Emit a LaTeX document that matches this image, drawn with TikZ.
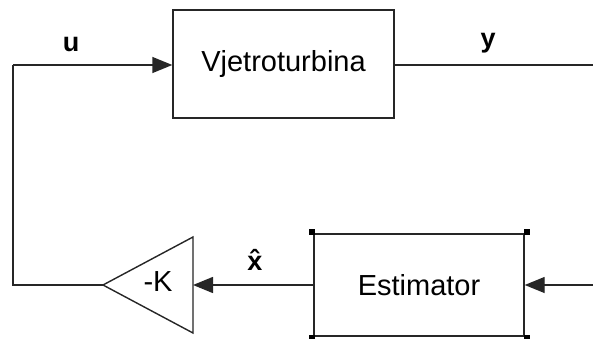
\documentclass[tikz,border=0pt]{standalone}
\usepackage{fontspec}
\setmainfont{Liberation Sans}
\usetikzlibrary{arrows.meta,calc}
\begin{document}
\begin{tikzpicture}[x=1pt,y=-1pt,
  blockbox/.style={draw=black!85,line width=1.4pt,minimum width=221pt,minimum height=108pt,inner sep=0pt,font=\fontsize{29}{30}\selectfont},
  conn/.style={draw=black!85,line width=1.4pt},
  arr/.style={conn,-{Triangle[length=20pt,width=16pt]}},
  sig/.style={font=\fontsize{27}{28}\selectfont\bfseries,inner sep=0pt},
  handle/.style={fill=black,minimum size=6pt,inner sep=0pt}]
\useasboundingbox (0,0) rectangle (593,339);
\node[blockbox] (vt) at (283.5,64) {Vjetroturbina};
\node[blockbox,minimum width=210pt,minimum height=102pt] (est) at (419,285) {Estimator};
\draw[conn,fill=white] (193,237) coordinate (tA) -- (193,333) coordinate (tB) -- (103,285) coordinate (tip) -- cycle;
\node[font=\fontsize{29}{30}\selectfont,inner sep=0pt] (gain) at (158,282) {-K};
\coordinate (gin) at (193,285);
\coordinate (ul) at (13,285);
\coordinate (ut) at (13,65);
\coordinate (yend) at (593,65);
\coordinate (ein) at (593,285);
\draw[conn] (tip) -- (ul) -- (ut);
\draw[arr] (ut) -- (vt.west |- ut);
\draw[conn] (vt.east |- yend) -- (yend);
\draw[arr] (ein) -- (est.east |- ein);
\draw[arr] (est.west |- gin) -- (gin);
\node[sig] (ulab) at (71,45) {u};
\node[sig] (ylab) at (488,43) {y};
\node[sig,anchor=base] (xlab) at (255,270) {\^{x}};
\foreach \c in {north west,north east,south west,south east}
  \node[handle] at ($(est.\c)!-2pt!(est.center)$) {};
\end{tikzpicture}
\end{document}
